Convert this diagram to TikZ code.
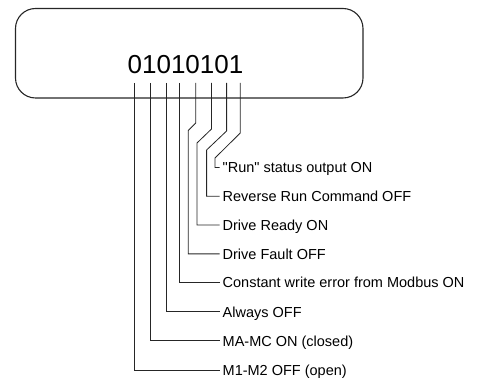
\documentclass[tikz,border=0pt]{standalone}
\usepackage{fontspec}
\setmainfont{Liberation Sans}
\newfontfamily\plainsans{Liberation Sans}
\begin{document}
\begin{tikzpicture}[x=1pt,y=-1pt,
  frame/.style={draw=black!85, line width=1.1pt, rounded corners=20pt},
  lead/.style={draw=black!85, line width=0.8pt},
  lbl/.style={anchor=west, inner ysep=0pt, inner xsep=3pt, text height=10.4pt, text depth=0pt,
              font=\plainsans\fontsize{14.5}{17}\selectfont}]
\useasboundingbox (0,0) rectangle (499,379);
\draw[frame] (15.5,8.5) rectangle (363,98);
\node[anchor=base, inner sep=0pt, font=\plainsans\fontsize{26}{30}\selectfont] (word) at (185.5,73.5) {01010101};
% bit tick origins
\coordinate (b1) at (134.3,83);
\coordinate (b2) at (150.7,83);
\coordinate (b3) at (166.2,83);
\coordinate (b4) at (179.5,83);
\coordinate (b5) at (195.7,83);
\coordinate (b6) at (211.5,83);
\coordinate (b7) at (226.6,83);
\coordinate (b8) at (240.3,83);
% labels
\node[lbl] (l1) at (219.5,167.5) {"Run" status output ON};
\node[lbl] (l2) at (219.5,196.3) {Reverse Run Command OFF};
\node[lbl] (l3) at (219.5,225.1) {Drive Ready ON};
\node[lbl] (l4) at (219.5,253.9) {Drive Fault OFF};
\node[lbl] (l5) at (219.5,282.7) {Constant write error from Modbus ON};
\node[lbl] (l6) at (219.5,311.9) {Always OFF};
\node[lbl] (l7) at (219.5,340.9) {MA-MC ON (closed)};
\node[lbl] (l8) at (219.5,370.2) {M1-M2 OFF (open)};
% connectors
\draw[lead] (b1) |- (l8.west);
\draw[lead] (b2) |- (l7.west);
\draw[lead] (b3) |- (l6.west);
\draw[lead] (b4) |- (l5.west);
\draw[lead] (b5) -- ++(0,40) -- ++(-7.4,7.5) |- (l4.west);
\draw[lead] (b6) -- ++(0,46) -- ++(-14.5,14) |- (l3.west);
\draw[lead] (b7) -- ++(0,48) -- ++(-20,19) |- (l2.west);
\draw[lead] (b8) -- ++(0,50) -- ++(-25.3,25) |- (l1.west);
\end{tikzpicture}
\end{document}
